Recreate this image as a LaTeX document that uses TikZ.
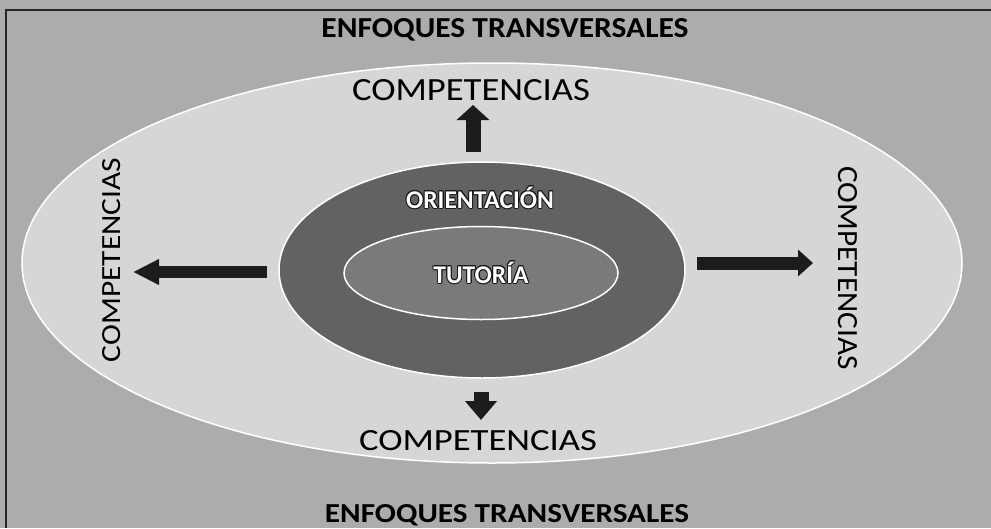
\documentclass[tikz,border=0pt]{standalone}
\usepackage{fontspec}
\setmainfont{Carlito}
\usepackage{graphicx}
\usepackage[copies]{contour}
\usetikzlibrary{shapes.geometric,arrows.meta}
\definecolor{bgc}{RGB}{172,172,172}
\definecolor{bigc}{RGB}{214,214,214}
\definecolor{darkc}{RGB}{98,98,98}
\definecolor{innerc}{RGB}{122,122,122}
\definecolor{arrc}{RGB}{28,28,28}
\contourlength{0.9pt}
\begin{document}
\begin{tikzpicture}[x=1pt,y=-1pt,
  ring/.style={ellipse, draw=white, line width=1.5pt, inner sep=0pt},
  lbl/.style={inner sep=0pt, anchor=base, text=black},
  wlbl/.style={inner sep=0pt, anchor=center, font=\bfseries\fontsize{25.5}{25.5}\selectfont},
  fatarrow/.style={draw=arrc, line cap=butt}]
\useasboundingbox (0,0) rectangle (991,528);
\fill[bgc] (0,0) rectangle (991,528);
\draw[line width=2pt, black!85] (991,10) -- (6,10) -- (6,528);
% ellipses
\node[ring, fill=bigc, minimum width=940pt, minimum height=400pt] (big) at (492,263) {};
\node[ring, fill=darkc, minimum width=406pt, minimum height=216pt] (orient) at (482,270) {};
\node[ring, fill=innerc, minimum width=274pt, minimum height=93pt] (tut) at (481,273) {};
% inner labels
\node[wlbl] (orientL) at (480,198) {\contour{black!90}{\textcolor{white}{ORIENTACIÓN}}};
\node[wlbl] (tutL) at (481,273) {\contour{black!90}{\textcolor{white}{TUTORÍA}}};
% transversal labels
\node[lbl] (enfT) at (505,37) {\resizebox{367pt}{19pt}{\bfseries ENFOQUES TRANSVERSALES}};
\node[lbl] (enfB) at (507,522) {\resizebox{364pt}{18pt}{\bfseries ENFOQUES TRANSVERSALES}};
% competencias labels
\node[lbl] (compT) at (471,100) {\resizebox{238pt}{21pt}{COMPETENCIAS}};
\node[lbl] (compB) at (478,450) {\resizebox{238pt}{20pt}{COMPETENCIAS}};
\node[lbl, rotate=90] (compL) at (120,260) {\resizebox{204pt}{18pt}{COMPETENCIAS}};
\node[lbl, rotate=-90] (compR) at (838,268) {\resizebox{203pt}{19pt}{COMPETENCIAS}};
% arrows
\coordinate (tA) at (473,152); \coordinate (tB) at (473,105);
\coordinate (bA) at (481,392); \coordinate (bB) at (481,420);
\coordinate (lA) at (267,272); \coordinate (lB) at (133,272);
\coordinate (rA) at (697,263); \coordinate (rB) at (813,263);
\draw[fatarrow, line width=15pt, -{Triangle[length=15pt,width=32pt]}] (tA) -- (tB);
\draw[fatarrow, line width=15pt, -{Triangle[length=19pt,width=31pt]}] (bA) -- (bB);
\draw[fatarrow, line width=12pt, -{Triangle[length=26pt,width=24pt]}] (lA) -- (lB);
\draw[fatarrow, line width=13pt, -{Triangle[length=15pt,width=26pt]}] (rA) -- (rB);
\end{tikzpicture}
\end{document}
